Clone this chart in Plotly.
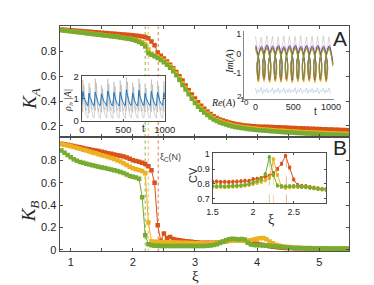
import plotly.graph_objects as go

# ---------------- data ----------------
xi = [0.85, 0.90, 0.95, 1.00, 1.05, 1.10, 1.15, 1.20, 1.25, 1.30,
      1.35, 1.40, 1.45, 1.50, 1.55, 1.60, 1.65, 1.70, 1.75, 1.80,
      1.85, 1.90, 1.95, 2.00, 2.05, 2.10, 2.15, 2.20, 2.25, 2.30,
      2.35, 2.40, 2.45, 2.50, 2.55, 2.60, 2.65, 2.70, 2.75, 2.80,
      2.85, 2.90, 2.95, 3.00, 3.05, 3.10, 3.15, 3.20, 3.25, 3.30,
      3.35, 3.40, 3.45, 3.50, 3.55, 3.60, 3.65, 3.70, 3.75, 3.80,
      3.85, 3.90, 3.95, 4.00, 4.05, 4.10, 4.15, 4.20, 4.25, 4.30,
      4.35, 4.40, 4.45, 4.50, 4.55, 4.60, 4.65, 4.70, 4.75, 4.80,
      4.85, 4.90, 4.95, 5.00, 5.05, 5.10, 5.15, 5.20, 5.25, 5.30,
      5.35, 5.40, 5.45]

ka_red = [.975, .973, .971, .969, .967, .965, .963, .961, .959, .957,
          .955, .953, .951, .949, .947, .945, .943, .941, .939, .937,
          .935, .933, .931, .929, .926, .923, .919, .915, .905, .880,
          .850, .790, .765, .742, .718, .692, .664, .633, .600, .565,
          .525, .487, .452, .420, .390, .362, .337, .315, .296, .277,
          .263, .252, .243, .235, .228, .222, .216, .211, .207, .204,
          .201, .199, .197, .195, .194, .193, .192, .191, .190, .189,
          .188, .187, .186, .185, .183, .182, .181, .180, .179, .178,
          .177, .176, .175, .174, .173, .172, .171, .170, .169, .168,
          .167, .166, .165]
ka_yellow = [.971, .968, .965, .962, .959, .956, .953, .950, .947, .944,
             .941, .938, .935, .932, .929, .926, .923, .920, .917, .914,
             .910, .906, .902, .897, .892, .885, .874, .858, .815, .780,
             .768, .756, .741, .724, .704, .681, .653, .620, .583, .543,
             .505, .468, .431, .398, .367, .341, .318, .297, .279, .262,
             .248, .237, .228, .220, .213, .206, .200, .195, .191, .187,
             .184, .181, .178, .176, .173, .171, .169, .167, .165, .163,
             .161, .160, .158, .157, .155, .154, .152, .151, .149, .148,
             .147, .146, .145, .144, .143, .142, .141, .140, .139, .138,
             .137, .136, .135]
ka_green = [.970, .967, .964, .961, .958, .955, .952, .949, .946, .943,
            .940, .937, .934, .931, .928, .925, .922, .919, .916, .912,
            .908, .904, .899, .893, .885, .875, .862, .838, .785, .772,
            .760, .747, .731, .713, .692, .668, .640, .607, .570, .530,
            .492, .455, .418, .385, .355, .330, .307, .287, .268, .252,
            .239, .228, .219, .211, .204, .197, .191, .186, .182, .178,
            .175, .172, .169, .166, .164, .162, .160, .158, .156, .154,
            .152, .151, .149, .148, .146, .145, .143, .142, .140, .139,
            .138, .136, .135, .134, .133, .132, .131, .130, .129, .128,
            .127, .126, .125]

kb_red = [.950, .945, .940, .935, .930, .924, .918, .912, .906, .900,
          .895, .890, .884, .878, .872, .866, .860, .854, .848, .842,
          .835, .826, .815, .802, .795, .788, .780, .768, .748, .712,
          .600, .220, .080, .145, .105, .115, .096, .090, .085, .080,
          .077, .074, .071, .068, .066, .064, .063, .062, .062, .063,
          .065, .068, .072, .076, .080, .085, .088, .090, .088, .085,
          .078, .070, .062, .055, .048, .042, .036, .031, .027, .024,
          .021, .019, .017, .016, .015, .014, .014, .013, .013, .012,
          .012, .012, .011, .011, .011, .010, .010, .010, .010, .010,
          .010, .009, .009]
kb_yellow = [.945, .940, .935, .928, .921, .913, .905, .897, .889, .880,
             .872, .864, .856, .848, .840, .832, .823, .813, .802, .790,
             .776, .760, .743, .730, .722, .715, .706, .685, .245, .075,
             .072, .071, .070, .069, .068, .067, .066, .065, .064, .063,
             .062, .061, .060, .059, .058, .058, .057, .057, .058, .060,
             .063, .066, .070, .074, .078, .082, .085, .083, .080, .078,
             .080, .085, .092, .098, .103, .106, .095, .075, .058, .046,
             .038, .032, .027, .024, .021, .019, .018, .017, .016, .015,
             .015, .014, .014, .013, .013, .013, .012, .012, .012, .012,
             .011, .011, .011]
kb_green = [.890, .870, .850, .830, .812, .797, .787, .779, .771, .764,
            .757, .750, .744, .738, .732, .726, .720, .713, .705, .697,
            .687, .675, .662, .654, .647, .637, .470, .130, .050, .040,
            .037, .036, .035, .035, .034, .034, .034, .033, .033, .033,
            .033, .033, .033, .033, .034, .034, .035, .036, .038, .042,
            .050, .060, .072, .085, .095, .100, .096, .093, .096, .092,
            .062, .047, .043, .041, .040, .039, .038, .036, .034, .031,
            .028, .025, .022, .020, .018, .017, .016, .015, .014, .013,
            .013, .012, .012, .012, .011, .011, .011, .010, .010, .010,
            .010, .010, .009]

xi_crit = [2.20, 2.25, 2.41]   # green, yellow, red critical points

# CV inset
xi_cv = [1.50, 1.55, 1.60, 1.65, 1.70, 1.75, 1.80, 1.85, 1.90, 1.95,
         2.00, 2.05, 2.10, 2.15, 2.20, 2.25, 2.30, 2.35, 2.40, 2.45,
         2.50, 2.55, 2.60, 2.65, 2.70, 2.75, 2.80, 2.85, 2.90]
cv_red = [.815, .816, .814, .815, .813, .815, .816, .818, .822, .820,
          .832, .835, .840, .848, .855, .872, .900, .935, .990, .910,
          .830, .792, .787, .785, .780, .775, .770, .766, .764]
cv_yellow = [.782, .781, .782, .780, .781, .783, .784, .786, .790, .795,
             .800, .808, .815, .825, .840, .965, .860, .780, .775, .778,
             .780, .782, .780, .778, .775, .772, .768, .765, .763]
cv_green = [.785, .784, .786, .784, .785, .787, .789, .790, .795, .800,
            .810, .820, .830, .865, .980, .860, .790, .785, .783, .785,
            .786, .784, .782, .780, .776, .772, .768, .765, .762]

# left inset of panel A: rho_i and |A| versus t
t_ins = [i * 12.5 for i in range(81)]
abs_a = [0.72, 1.32, 1.08, 0.92, 0.82, 0.71,
         0.68, 1.25, 1.02, 0.95, 0.80, 0.70,
         0.69, 1.30, 1.10, 0.88, 0.78, 0.70,
         0.70, 1.22, 1.00, 0.90, 0.83, 0.72,
         0.68, 1.35, 1.12, 0.94, 0.80, 0.69,
         0.70, 1.28, 1.05, 0.90, 0.79, 0.71,
         0.67, 1.30, 1.00, 0.92, 0.82, 0.70,
         0.69, 1.40, 1.15, 0.95, 0.80, 0.70,
         0.71, 1.26, 1.04, 0.89, 0.78, 0.69,
         0.68, 1.38, 1.10, 0.93, 0.81, 0.70,
         0.70, 1.24, 1.02, 0.90, 0.80, 0.71,
         0.69, 1.33, 1.08, 0.91, 0.79, 0.70,
         0.70, 1.29, 1.05, 0.92, 0.80, 0.71,
         0.69, 1.27, 1.06]
rho_1 = [0.15, 1.85, 1.10, 0.55, 0.30, 0.18,
         0.12, 1.70, 1.00, 0.60, 0.35, 0.15,
         0.14, 1.90, 1.20, 0.50, 0.28, 0.16,
         0.10, 1.60, 0.95, 0.58, 0.33, 0.17,
         0.13, 1.88, 1.15, 0.52, 0.30, 0.14,
         0.11, 1.75, 1.05, 0.57, 0.32, 0.16,
         0.12, 1.82, 1.00, 0.55, 0.29, 0.15,
         0.10, 1.95, 1.22, 0.60, 0.31, 0.16,
         0.14, 1.72, 1.02, 0.54, 0.30, 0.15,
         0.11, 1.90, 1.12, 0.58, 0.33, 0.16,
         0.13, 1.68, 0.98, 0.53, 0.29, 0.15,
         0.12, 1.86, 1.10, 0.56, 0.31, 0.16,
         0.12, 1.80, 1.06, 0.55, 0.30, 0.15,
         0.12, 1.78, 1.04]
rho_2 = [0.95, 0.40, 1.60, 0.80, 0.45, 0.60,
         0.90, 0.35, 1.50, 0.85, 0.50, 0.55,
         0.85, 0.45, 1.70, 0.75, 0.42, 0.62,
         0.92, 0.38, 1.45, 0.82, 0.48, 0.58,
         0.88, 0.42, 1.65, 0.78, 0.44, 0.60,
         0.90, 0.36, 1.55, 0.84, 0.46, 0.57,
         0.86, 0.40, 1.62, 0.80, 0.45, 0.59,
         0.93, 0.44, 1.75, 0.76, 0.43, 0.61,
         0.89, 0.37, 1.52, 0.83, 0.47, 0.56,
         0.87, 0.43, 1.68, 0.79, 0.44, 0.60,
         0.91, 0.39, 1.48, 0.81, 0.46, 0.58,
         0.88, 0.41, 1.63, 0.80, 0.45, 0.59,
         0.90, 0.40, 1.58, 0.82, 0.45, 0.60,
         0.88, 0.41, 1.60]

# right inset of panel A: Re(A), Im(A) of the (nearly synchronised) oscillators versus t
t_osc = [i * 18.75 for i in range(54)]
im_blue = [0.35, -0.55, -1.40, -0.50, 0.30, -0.60, -1.35, -0.45, 0.38, -0.52, -1.42, -0.55,
           0.32, -0.58, -1.38, -0.48, 0.36, -0.50, -1.40, -0.52, 0.30, -0.56, -1.36, -0.46,
           0.34, -0.54, -1.44, -0.50, 0.37, -0.57, -1.39, -0.49, 0.31, -0.53, -1.41, -0.51,
           0.35, -0.55, -1.37, -0.47, 0.33, -0.59, -1.43, -0.53, 0.36, -0.52, -1.38, -0.50,
           0.32, -0.56, -1.40, -0.48, 0.34, -0.54]
re_blue = [0.02, 0.90, -0.03, -0.88, 0.01, 0.92, -0.02, -0.90, 0.03, 0.88, -0.01, -0.91,
           0.00, 0.90, -0.03, -0.87, 0.02, 0.91, -0.02, -0.89, 0.01, 0.89, -0.01, -0.92,
           0.03, 0.90, -0.02, -0.88, 0.00, 0.92, -0.03, -0.90, 0.02, 0.88, -0.01, -0.89,
           0.01, 0.91, -0.02, -0.91, 0.03, 0.89, 0.00, -0.88, 0.02, 0.90, -0.03, -0.90,
           0.01, 0.92, -0.02, -0.89, 0.00, 0.90]
im_orange = [0.28, -0.60, -1.45, -0.55, 0.25, -0.63, -1.40, -0.52, 0.30, -0.58, -1.47, -0.57,
             0.26, -0.61, -1.43, -0.53, 0.29, -0.56, -1.46, -0.55, 0.24, -0.62, -1.41, -0.51,
             0.27, -0.59, -1.48, -0.54, 0.31, -0.60, -1.44, -0.53, 0.25, -0.57, -1.45, -0.56,
             0.28, -0.61, -1.42, -0.52, 0.26, -0.63, -1.47, -0.57, 0.29, -0.58, -1.43, -0.54,
             0.25, -0.60, -1.45, -0.52, 0.27, -0.59]
re_orange = [0.05, 0.95, -0.04, -0.93, 0.06, 0.97, -0.03, -0.95, 0.04, 0.93, -0.05, -0.96,
             0.05, 0.95, -0.04, -0.92, 0.06, 0.96, -0.03, -0.94, 0.04, 0.94, -0.05, -0.97,
             0.05, 0.95, -0.04, -0.93, 0.06, 0.97, -0.03, -0.95, 0.04, 0.93, -0.05, -0.94,
             0.05, 0.96, -0.04, -0.96, 0.06, 0.94, -0.03, -0.93, 0.04, 0.95, -0.05, -0.95,
             0.05, 0.97, -0.04, -0.94, 0.06, 0.95]
im_yellow = [0.20, -0.65, -1.50, -0.62, 0.18, -0.68, -1.46, -0.58, 0.23, -0.63, -1.52, -0.64,
             0.19, -0.66, -1.48, -0.60, 0.22, -0.62, -1.51, -0.62, 0.17, -0.67, -1.47, -0.57,
             0.21, -0.64, -1.53, -0.61, 0.24, -0.65, -1.49, -0.60, 0.18, -0.63, -1.50, -0.63,
             0.21, -0.66, -1.47, -0.59, 0.19, -0.68, -1.52, -0.64, 0.22, -0.63, -1.48, -0.61,
             0.18, -0.65, -1.50, -0.59, 0.20, -0.64]
re_yellow = [-0.06, 1.00, 0.05, -0.98, -0.05, 1.02, 0.04, -1.00, -0.06, 0.98, 0.06, -1.01,
             -0.05, 1.00, 0.05, -0.97, -0.06, 1.01, 0.04, -0.99, -0.05, 0.99, 0.06, -1.02,
             -0.06, 1.00, 0.05, -0.98, -0.05, 1.02, 0.04, -1.00, -0.06, 0.98, 0.06, -0.99,
             -0.05, 1.01, 0.05, -1.01, -0.06, 0.99, 0.04, -0.98, -0.05, 1.00, 0.06, -1.00,
             -0.06, 1.02, 0.05, -0.99, -0.05, 1.00]
im_purple = [0.42, -0.48, -1.33, -0.44, 0.38, -0.52, -1.30, -0.40, 0.45, -0.46, -1.36, -0.47,
             0.40, -0.50, -1.32, -0.42, 0.43, -0.45, -1.35, -0.45, 0.37, -0.51, -1.31, -0.39,
             0.41, -0.47, -1.37, -0.44, 0.44, -0.49, -1.33, -0.43, 0.39, -0.46, -1.34, -0.46,
             0.42, -0.50, -1.31, -0.41, 0.40, -0.52, -1.36, -0.47, 0.43, -0.47, -1.32, -0.44,
             0.39, -0.49, -1.34, -0.42, 0.41, -0.48]
re_purple = [0.08, 0.82, -0.07, -0.80, 0.09, 0.84, -0.06, -0.82, 0.07, 0.80, -0.08, -0.83,
             0.08, 0.82, -0.07, -0.79, 0.09, 0.83, -0.06, -0.81, 0.07, 0.81, -0.08, -0.84,
             0.08, 0.82, -0.07, -0.80, 0.09, 0.84, -0.06, -0.82, 0.07, 0.80, -0.08, -0.81,
             0.08, 0.83, -0.07, -0.83, 0.09, 0.81, -0.06, -0.80, 0.07, 0.82, -0.08, -0.82,
             0.08, 0.84, -0.07, -0.81, 0.09, 0.82]
im_green = [0.25, -0.65, -1.30, -0.40, 0.22, -0.62, -1.28, -0.44, 0.27, -0.66, -1.33, -0.38,
            0.24, -0.60, -1.29, -0.42, 0.26, -0.64, -1.31, -0.41, 0.23, -0.63, -1.27, -0.43,
            0.28, -0.67, -1.32, -0.39, 0.25, -0.61, -1.30, -0.40, 0.24, -0.65, -1.34, -0.42,
            0.26, -0.62, -1.28, -0.41, 0.23, -0.64, -1.31, -0.39, 0.27, -0.66, -1.29, -0.43,
            0.25, -0.63, -1.30, -0.40, 0.24, -0.65]
re_green = [0.12, 0.80, -0.10, -0.82, 0.10, 0.78, -0.12, -0.80, 0.13, 0.81, -0.09, -0.79,
            0.11, 0.80, -0.11, -0.83, 0.12, 0.79, -0.10, -0.81, 0.10, 0.82, -0.12, -0.78,
            0.13, 0.80, -0.11, -0.80, 0.11, 0.79, -0.10, -0.82, 0.12, 0.81, -0.12, -0.79,
            0.10, 0.80, -0.11, -0.81, 0.13, 0.78, -0.09, -0.80, 0.11, 0.82, -0.10, -0.79,
            0.12, 0.80, -0.11, -0.81, 0.10, 0.79]
im_wall = [0.90, 0.35, 0.20, 0.40, 0.85, 0.30, 0.22, 0.45, 0.92, 0.33, 0.18, 0.42,
           0.88, 0.36, 0.21, 0.38, 0.86, 0.32, 0.20, 0.44, 0.91, 0.34, 0.19, 0.41,
           0.87, 0.31, 0.22, 0.43, 0.89, 0.35, 0.20, 0.40, 0.93, 0.33, 0.21, 0.39,
           0.86, 0.30, 0.19, 0.42, 0.90, 0.34, 0.22, 0.44, 0.88, 0.32, 0.20, 0.41,
           0.91, 0.35, 0.21, 0.40, 0.87, 0.33]
re_floor = [-1.80, -2.08, -1.90, -2.00, -1.78, -2.10, -1.88, -2.02, -1.82, -2.06, -1.92, -1.98,
            -1.79, -2.09, -1.89, -2.01, -1.81, -2.07, -1.91, -1.99, -1.80, -2.08, -1.88, -2.03,
            -1.83, -2.05, -1.90, -2.00, -1.78, -2.10, -1.89, -2.01, -1.81, -2.07, -1.92, -1.99,
            -1.80, -2.08, -1.88, -2.02, -1.82, -2.06, -1.90, -2.00, -1.79, -2.09, -1.91, -1.98,
            -1.81, -2.07, -1.89, -2.01, -1.80, -2.08]

# ---------------- style ----------------
RED, YEL, GRN = '#D95319', '#EDB120', '#77AC30'
RED_L, YEL_L, GRN_L = 'rgba(217,83,25,0.55)', 'rgba(237,177,32,0.6)', 'rgba(119,172,48,0.6)'
OSC = [('#0072BD', re_blue, im_blue), ('#D95319', re_orange, im_orange),
       ('#EDB120', re_yellow, im_yellow), ('#7E2F8E', re_purple, im_purple),
       ('#77AC30', re_green, im_green)]
VIEW_SKEW = 38   # oblique projection of Re(A) onto the t direction of the 3D view
AX = '#4d4d4d'
TXT = '#262626'
SANS = 'Liberation Sans, Arial, sans-serif'
SERIF = 'Liberation Serif, DejaVu Serif, serif'
W, H = 374, 285


def px(x):
    return x / W


def py(y):
    return 1 - y / H


fig = go.Figure()

# main panels
for xa, ya, series in (('x', 'y', (ka_red, ka_yellow, ka_green)),
                       ('x2', 'y2', (kb_red, kb_yellow, kb_green))):
    for vals, col in zip(series, (RED, YEL, GRN)):
        fig.add_trace(go.Scatter(x=xi, y=vals, mode='lines+markers', xaxis=xa, yaxis=ya,
                                 line=dict(color=col, width=1),
                                 marker=dict(symbol='square', size=4.5, color=col)))

# left inset of A
for vals in (rho_1, rho_2):
    fig.add_trace(go.Scatter(x=t_ins, y=vals, mode='lines', xaxis='x3', yaxis='y3',
                             line=dict(color='rgba(160,160,160,0.5)', width=0.9)))
fig.add_trace(go.Scatter(x=t_ins, y=abs_a, mode='lines', xaxis='x3', yaxis='y3',
                         line=dict(color='#1f77c0', width=1)))

# right inset of A (oblique projection of the 3D view)
fig.add_trace(go.Scatter(x=t_osc, y=im_wall, mode='lines', xaxis='x4', yaxis='y4',
                         line=dict(color='rgba(170,170,170,0.45)', width=1)))
fig.add_trace(go.Scatter(x=t_osc, y=re_floor, mode='lines', xaxis='x4', yaxis='y4',
                         line=dict(color='rgba(160,185,210,0.5)', width=1)))
for col, re_v, im_v in OSC:
    fig.add_trace(go.Scatter(x=[t + VIEW_SKEW * r for t, r in zip(t_osc, re_v)], y=im_v,
                             mode='lines', xaxis='x4', yaxis='y4',
                             line=dict(color=col, width=0.8, shape='spline')))

# CV inset
CV_YR = [0.67, 1.005]
for vals, col, xc in ((cv_red, RED, xi_crit[2]), (cv_yellow, YEL, xi_crit[1]),
                      (cv_green, GRN, xi_crit[0])):
    fig.add_trace(go.Scatter(x=[xc, xc], y=[CV_YR[0], max(vals)], mode='lines',
                             xaxis='x5', yaxis='y5',
                             line=dict(color=col, width=1, dash='dash'), opacity=0.45))
    fig.add_trace(go.Scatter(x=xi_cv, y=vals, mode='lines+markers', xaxis='x5', yaxis='y5',
                             line=dict(color=col, width=1),
                             marker=dict(symbol='circle', size=3.5, color=col),
                             error_y=dict(type='constant', value=0.01, color=col,
                                          thickness=1, width=1.2)))

# critical-point dotted lines on both main panels
shapes = []
for xc, col in zip(xi_crit, (GRN_L, YEL_L, RED_L)):
    for xr, yr in (('x', 'y domain'), ('x2', 'y2 domain')):
        shapes.append(dict(type='line', xref=xr, yref=yr, x0=xc, x1=xc, y0=0, y1=1,
                           line=dict(color=col, width=1.5, dash='dot'), layer='below'))

base = dict(showline=True, linecolor=AX, linewidth=1, mirror='ticks', ticks='inside',
            ticklen=3, tickcolor=AX, showgrid=False, zeroline=False,
            tickfont=dict(family=SANS, size=11, color=TXT))
ins = dict(base, ticklen=2, tickfont=dict(family=SANS, size=9.5, color=TXT))
minor_x = dict(tickvals=[1.5, 2.5, 3.5, 4.5], ticks='inside', ticklen=3, tickcolor=AX)

fig.update_layout(
    width=W, height=H, margin=dict(l=0, r=0, t=0, b=0),
    paper_bgcolor='white', plot_bgcolor='white', showlegend=False,
    xaxis=dict(base, domain=[px(47.7), px(351)], range=[0.82, 5.48], anchor='y',
               tickvals=[1, 2, 3, 4, 5], showticklabels=False, minor=minor_x),
    yaxis=dict(base, domain=[py(128), py(13)], range=[0.11, 1.0], anchor='x',
               tickvals=[0.2, 0.4, 0.6, 0.8], ticktext=['0.2', '0.4', '0.6', '0.8']),
    xaxis2=dict(base, domain=[px(47.7), px(351)], range=[0.82, 5.48], anchor='y2',
                tickvals=[1, 2, 3, 4, 5], minor=minor_x),
    yaxis2=dict(base, domain=[py(247), py(128)], range=[-0.015, 1.01], anchor='x2',
                tickvals=[0, 0.2, 0.4, 0.6, 0.8], ticktext=['0', '0.2', '0.4', '0.6', '0.8']),
    xaxis3=dict(ins, domain=[px(71), px(158)], range=[0, 1000], anchor='y3',
                tickvals=[0, 500, 1000]),
    yaxis3=dict(ins, domain=[py(111), py(65)], range=[0, 2], anchor='x3',
                tickvals=[0, 1, 2]),
    xaxis4=dict(domain=[px(241), px(335)], range=[-152, 1038], anchor='y4',
                showline=True, linecolor='#888', linewidth=1, ticks='', showgrid=False,
                zeroline=False, tickvals=[0, 500, 1000],
                tickfont=dict(family=SANS, size=9, color=TXT)),
    yaxis4=dict(domain=[py(88), py(18)], range=[-2.35, 1.15], anchor='x4',
                showline=True, linecolor='#888', linewidth=1, ticks='', showgrid=False,
                zeroline=False, tickvals=[-1, 0, 1], ticktext=['-1', '0', '1'],
                tickfont=dict(family=SANS, size=9, color=TXT)),
    xaxis5=dict(ins, domain=[px(208), px(327)], range=[1.5, 2.9], anchor='y5',
                tickvals=[1.5, 2, 2.5], ticktext=['1.5', '2', '2.5'],
                tickfont=dict(family=SANS, size=9, color=TXT)),
    yaxis5=dict(ins, domain=[py(197), py(145)], range=CV_YR, anchor='x5',
                tickvals=[0.7, 0.8, 0.9, 1.0], ticktext=['0.7', '0.8', '0.9', '1'],
                tickfont=dict(family=SANS, size=9, color=TXT)),
    shapes=shapes,
)


def note(text, x, y, size, family=SANS, angle=0, color=TXT):
    fig.add_annotation(text=text, x=px(x), y=py(y), xref='paper', yref='paper',
                       showarrow=False, textangle=angle, xanchor='center', yanchor='middle',
                       font=dict(family=family, size=size, color=color))


note('<i>K</i><sub><i>A</i></sub>', 17, 88, 19, SERIF, -90)
note('<i>K</i><sub><i>B</i></sub>', 17, 205, 19, SERIF, -90)
note('ξ', 190, 273, 15, SERIF)
note('A', 341, 26, 21)
note('B', 341, 139, 21)
note('ξ<sub>C</sub>(N)', 164, 149, 9, SANS, 0, '#444')
note('<i>ρ<sub>i</sub></i>, |<i>A</i>|', 57, 90, 10, SERIF, -90)
note('t', 136, 119, 10)
note('CV', 187, 168, 11, SANS, -90)
note('ξ', 269, 214, 14, SERIF)
note('<i>Im</i>(<i>A</i>)', 226, 50, 10, SERIF, -90)
note('<i>Re</i>(<i>A</i>)', 219, 93, 10, SERIF)
note('2', 236, 86, 8)
note('1', 239.5, 89, 8)
note('0', 243.5, 92, 8)
note('t', 316, 101, 10)

fig.write_html('out.html')
